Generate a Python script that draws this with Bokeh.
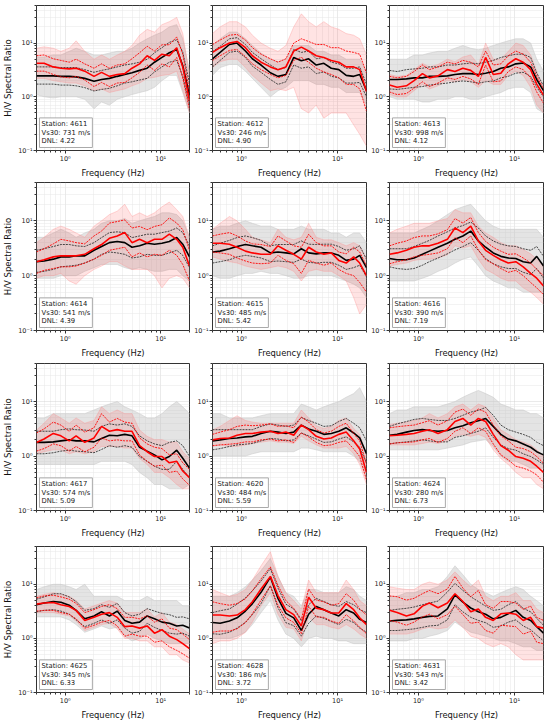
from bokeh.plotting import figure
from bokeh.layouts import column, row
from bokeh.models import FixedTicker, CustomJSTickFormatter, Label
from bokeh.embed import file_html
from bokeh.resources import INLINE

FREQ = [0.5, 0.6, 0.75, 0.9, 1.1, 1.3, 1.6, 2.0, 2.4, 2.9, 3.5, 4.2, 5.0, 6.0, 7.2, 8.6, 10.3, 12.3, 14.7, 17.0, 20.0]

STATIONS = ["4611", "4612", "4613", "4614", "4615", "4616", "4617", "4620", "4624", "4625", "4628", "4631"]
VS30 = [731, 246, 998, 541, 485, 390, 574, 484, 280, 345, 186, 543]
DNL = ["4.22", "4.90", "4.12", "4.39", "5.42", "7.19", "5.09", "5.59", "6.73", "6.33", "3.72", "3.42"]

# ---- 4611
blk_4611 = [2.45, 2.45, 2.45, 2.4, 2.4, 2.35, 2.2, 1.95, 2.1, 2.2, 2.4, 2.6, 2.8, 3.1, 3.4, 4.4, 5.4, 6.6, 7.6, 3.8, 1.07]
blk_hi_4611 = [3.6, 3.6, 3.6, 3.5, 3.5, 3.5, 3.2, 2.85, 3.1, 3.3, 3.6, 3.9, 4.1, 4.4, 5.0, 6.6, 8.2, 10.3, 11.5, 6.8, 1.8]
blk_lo_4611 = [1.72, 1.72, 1.72, 1.65, 1.65, 1.6, 1.48, 1.28, 1.37, 1.44, 1.6, 1.8, 1.9, 2.05, 2.2, 2.9, 3.6, 4.4, 4.75, 2.4, 0.7]
red_4611 = [4.2, 4.2, 3.6, 3.4, 3.3, 3.4, 3.0, 2.4, 2.85, 2.4, 2.6, 2.7, 3.4, 4.1, 5.8, 4.75, 6.2, 5.8, 8.2, 3.6, 0.84]
red_hi_4611 = [5.8, 6.0, 5.1, 4.75, 4.4, 5.0, 4.1, 3.4, 4.1, 3.4, 3.9, 4.1, 5.1, 6.6, 8.7, 7.1, 9.3, 9.3, 13, 6.2, 1.25]
red_lo_4611 = [3.0, 3.0, 2.6, 2.35, 2.25, 2.4, 2.05, 1.55, 1.85, 1.55, 1.8, 1.85, 2.25, 2.85, 3.9, 3.1, 4.1, 3.6, 5.4, 2.25, 0.58]
grey_lo_4611 = [1.1, 1.0, 0.95, 1.0, 1.0, 1.0, 0.9, 0.6, 0.8, 0.7, 0.9, 1.0, 1.1, 1.2, 1.3, 1.5, 2.0, 2.5, 2.5, 1.2, 0.5]
grey_hi_4611 = [5.5, 5.5, 6, 6, 7, 8, 7, 6, 6, 6.5, 7, 7, 8, 10, 12, 14, 16, 20, 22, 12, 3]
pink_lo_4611 = [2.2, 2.2, 2.0, 1.9, 1.8, 1.8, 1.6, 1.3, 1.4, 1.2, 1.3, 1.4, 1.6, 1.8, 2.2, 2.3, 2.5, 2.6, 3.0, 1.3, 0.5]
pink_hi_4611 = [8, 8.5, 8, 7, 8, 11, 7, 5, 6, 5, 6, 7, 9, 14, 18, 16, 22, 25, 30, 15, 2.5]

# ---- 4612
blk_4612 = [5.1, 6.7, 9.4, 10, 7.1, 5.1, 3.9, 2.8, 2.4, 2.6, 5.4, 4.7, 5.1, 3.9, 4.2, 3.4, 3.2, 2.5, 2.4, 2.6, 1.3]
blk_hi_4612 = [6.9, 8.7, 12, 12.6, 9.4, 6.7, 5.1, 3.9, 3.2, 3.5, 7.6, 6.7, 7.1, 5.1, 5.4, 4.4, 4.1, 3.4, 3.4, 3.6, 1.7]
blk_lo_4612 = [3.6, 4.75, 6.7, 7.1, 5.4, 3.7, 2.85, 2.1, 1.7, 1.9, 3.9, 3.4, 3.6, 2.7, 2.9, 2.4, 2.25, 1.8, 1.8, 1.85, 1.0]
red_4612 = [6.7, 8.2, 10, 10.7, 8.2, 5.8, 4.4, 3.6, 3.2, 3.6, 7.1, 8.4, 7.1, 5.8, 5.4, 4.75, 4.4, 3.6, 3.6, 3.2, 1.25]
red_hi_4612 = [9.4, 11.4, 14, 14.5, 11.4, 8.2, 6.2, 5.1, 4.4, 5.1, 10, 12, 10.7, 9.4, 9.4, 8.2, 8.2, 7.1, 6.7, 6.2, 2.75]
red_lo_4612 = [4.75, 5.8, 7.3, 7.6, 5.6, 4.1, 3.2, 2.6, 2.25, 2.5, 4.75, 5.4, 4.4, 3.4, 2.9, 2.6, 2.25, 1.7, 1.7, 1.4, 0.54]
grey_lo_4612 = [2.5, 3.5, 4, 4, 3, 2.2, 1.5, 1.0, 1.3, 1.5, 2, 2, 2, 1.7, 1.7, 1.5, 1.5, 1.2, 1.2, 1.2, 0.7]
grey_hi_4612 = [9, 12, 16, 16, 12, 9, 6.5, 5, 4.5, 5, 9, 9, 9, 7, 7, 6, 6, 5, 5, 5, 3]
pink_lo_4612 = [3.5, 4.5, 5, 5, 3.5, 2.5, 1.8, 1.3, 1.4, 1.3, 1.5, 0.6, 0.5, 0.7, 0.4, 0.5, 0.5, 0.5, 0.3, 0.2, 0.12]
pink_hi_4612 = [15, 20, 25, 25, 20, 14, 10, 8, 7, 9, 20, 35, 25, 20, 25, 20, 18, 15, 14, 12, 6]

# ---- 4613
blk_4613 = [2.1, 2.1, 2.15, 2.25, 2.25, 2.4, 2.4, 2.45, 2.6, 2.7, 2.7, 2.6, 2.75, 2.95, 3.4, 3.6, 4.1, 4.25, 3.6, 2.1, 1.3]
blk_hi_4613 = [3.1, 2.95, 3.2, 3.3, 3.4, 3.6, 3.6, 3.9, 3.9, 4.1, 4.25, 4.1, 4.4, 4.75, 5.4, 5.8, 6.2, 6.2, 5.4, 2.75, 1.6]
blk_lo_4613 = [1.4, 1.37, 1.44, 1.5, 1.55, 1.65, 1.72, 1.8, 1.9, 1.97, 1.9, 1.8, 1.9, 1.97, 2.25, 2.4, 2.75, 2.85, 2.4, 1.5, 1.0]
red_4613 = [1.65, 1.5, 1.6, 2.0, 2.7, 2.25, 2.45, 3.2, 2.95, 3.4, 3.1, 2.4, 5.4, 2.6, 2.75, 4.1, 5.1, 4.4, 3.2, 1.72, 1.07]
red_hi_4613 = [2.4, 2.25, 2.4, 2.95, 3.9, 3.2, 3.6, 4.4, 4.1, 4.75, 4.4, 3.6, 7.1, 3.9, 4.1, 5.8, 7.1, 6.2, 4.4, 2.4, 1.4]
red_lo_4613 = [1.23, 1.1, 1.15, 1.45, 1.9, 1.55, 1.8, 2.25, 2.1, 2.4, 2.15, 1.7, 3.9, 1.9, 1.97, 2.95, 3.6, 3.2, 2.25, 1.23, 0.76]
grey_lo_4613 = [1.0, 0.9, 0.9, 0.9, 0.8, 0.8, 0.9, 0.9, 1.0, 1.0, 0.9, 0.9, 1.0, 1.1, 1.2, 1.4, 1.5, 1.5, 1.2, 0.6, 0.5]
grey_hi_4613 = [5, 5, 5, 6, 6, 6.5, 7, 7, 8, 9, 8, 7.5, 8, 9, 10, 11, 12, 12, 10, 5, 3]
pink_lo_4613 = [1.1, 1.0, 1.0, 1.3, 1.7, 1.4, 1.6, 2.0, 1.9, 2.1, 1.9, 1.5, 2.0, 1.7, 1.7, 2.5, 3.0, 2.5, 1.5, 0.7, 0.5]
pink_hi_4613 = [2.6, 2.4, 2.5, 3.2, 4.2, 3.6, 4, 5, 4.5, 5.5, 6, 4, 10, 5, 5, 7, 10, 9, 6, 3, 1.5]

# ---- 4614
blk_4614 = [1.8, 1.85, 2.0, 2.2, 2.2, 2.3, 2.3, 2.9, 3.4, 4.0, 4.2, 4.0, 3.3, 3.5, 3.9, 3.75, 3.9, 4.2, 4.95, 3.75, 2.2]
blk_hi_4614 = [2.9, 3.1, 3.4, 3.7, 3.7, 3.5, 3.4, 4.0, 4.95, 6.1, 6.3, 6.1, 4.95, 5.3, 5.7, 5.7, 6.1, 6.5, 7.4, 6.1, 3.5]
blk_lo_4614 = [1.15, 1.2, 1.3, 1.45, 1.5, 1.55, 1.7, 2.0, 2.45, 2.7, 2.6, 2.45, 2.1, 2.2, 2.45, 2.35, 2.35, 2.6, 2.9, 2.35, 1.4]
red_4614 = [1.8, 1.95, 2.2, 2.3, 2.3, 2.3, 2.45, 3.1, 3.7, 4.8, 5.3, 6.1, 4.0, 4.6, 4.0, 4.6, 4.6, 5.7, 4.6, 3.3, 1.5]
red_hi_4614 = [2.7, 3.1, 3.8, 4.6, 4.3, 4.0, 3.8, 5.3, 6.5, 9.1, 9.7, 10.4, 7.4, 7.9, 6.9, 7.9, 8.5, 11.3, 9.1, 6.9, 2.9]
red_lo_4614 = [1.1, 1.25, 1.35, 1.45, 1.45, 1.5, 1.7, 2.0, 2.35, 2.9, 3.1, 3.3, 2.2, 2.6, 2.2, 2.45, 2.35, 2.9, 2.35, 1.6, 0.8]
grey_lo_4614 = [0.9, 0.9, 0.9, 1.0, 1.0, 1.0, 1.2, 1.4, 1.6, 1.6, 1.6, 1.4, 1.3, 1.4, 1.3, 1.2, 1.2, 1.3, 1.3, 1.0, 0.8]
grey_hi_4614 = [5, 5, 6, 7, 6, 5, 6, 7, 9, 10, 10, 11, 9, 10, 11, 12, 14, 14, 13, 10, 5]
pink_lo_4614 = [0.9, 1.0, 1.0, 1.1, 0.8, 0.7, 1.0, 1.3, 1.5, 1.8, 1.8, 1.5, 1.3, 1.3, 1.3, 1.0, 0.6, 0.9, 1.0, 0.9, 0.6]
pink_hi_4614 = [4, 5, 7, 8, 7, 6, 5, 8, 10, 13, 15, 20, 12, 14, 12, 14, 18, 22, 16, 12, 5]

# ---- 4615
blk_4615 = [2.7, 2.8, 3.1, 3.4, 3.7, 3.5, 3.3, 2.6, 2.7, 2.6, 2.5, 3.1, 2.6, 2.5, 2.6, 2.6, 2.35, 1.9, 2.0, 2.35, 1.4]
blk_hi_4615 = [3.5, 3.9, 4.4, 4.95, 5.3, 4.95, 4.4, 3.5, 3.7, 3.7, 3.7, 4.3, 3.75, 3.7, 3.75, 3.75, 3.4, 2.9, 3.1, 3.5, 2.0]
blk_lo_4615 = [1.7, 1.8, 1.95, 2.2, 2.35, 2.25, 2.1, 1.8, 1.85, 1.8, 1.75, 2.0, 1.75, 1.7, 1.75, 1.75, 1.55, 1.3, 1.4, 1.55, 0.95]
red_4615 = [3.9, 3.9, 3.75, 3.3, 2.8, 2.6, 2.45, 2.45, 3.5, 2.9, 2.45, 2.0, 3.3, 2.7, 2.45, 2.6, 1.9, 1.7, 2.2, 1.7, 1.0]
red_hi_4615 = [5.3, 5.7, 6.1, 5.3, 4.3, 3.8, 3.7, 3.4, 5.3, 4.3, 3.5, 3.3, 5.7, 4.0, 3.5, 3.5, 2.7, 2.5, 3.3, 2.7, 1.5]
red_lo_4615 = [2.7, 2.6, 2.45, 2.1, 1.85, 1.7, 1.65, 1.7, 2.35, 1.9, 1.65, 1.1, 1.9, 1.7, 1.55, 1.7, 1.3, 1.1, 1.0, 0.75, 0.5]
grey_lo_4615 = [1.0, 0.9, 0.9, 1.0, 1.1, 1.1, 1.2, 1.1, 1.1, 1.0, 0.9, 0.9, 1.0, 1.0, 1.0, 1.0, 0.9, 0.8, 0.7, 0.6, 0.4]
grey_hi_4615 = [7, 8, 8, 9, 10, 9, 8, 8, 7, 7, 7, 8, 7, 7, 7, 6, 6, 5, 6, 6, 4]
pink_lo_4615 = [2.2, 2.0, 1.8, 1.7, 1.5, 1.4, 1.3, 1.4, 1.5, 1.4, 1.2, 0.8, 1.2, 1.3, 1.2, 1.2, 1.0, 0.8, 0.4, 0.2, 0.3]
pink_hi_4615 = [7, 9, 12, 10, 7, 5, 4.5, 4, 7, 5, 4.5, 5, 9, 5, 4.5, 4.5, 4, 3.5, 4, 3.5, 2]

# ---- 4616
blk_4616 = [2.05, 1.95, 1.95, 2.1, 2.45, 2.8, 3.3, 3.9, 4.6, 5.3, 6.5, 4.3, 3.3, 2.6, 2.25, 2.1, 2.05, 1.8, 1.7, 2.25, 1.5]
blk_hi_4616 = [3.1, 3.1, 3.1, 3.4, 3.9, 4.4, 5.3, 6.3, 7.4, 8.2, 9.5, 7.4, 5.3, 4.3, 3.75, 3.5, 3.4, 3.1, 2.9, 3.4, 2.25]
blk_lo_4616 = [1.45, 1.35, 1.3, 1.35, 1.55, 1.8, 2.1, 2.5, 2.95, 3.4, 4.0, 2.9, 2.05, 1.65, 1.45, 1.35, 1.35, 1.15, 1.05, 1.35, 0.9]
red_4616 = [2.45, 2.6, 2.9, 3.3, 3.5, 3.5, 3.9, 4.6, 7.4, 6.1, 8.0, 4.3, 2.9, 2.35, 1.95, 1.7, 1.8, 1.45, 1.1, 0.9, 0.65]
red_hi_4616 = [3.5, 3.9, 4.3, 4.95, 5.3, 5.3, 5.8, 6.9, 11, 9.1, 11.5, 6.1, 4.2, 3.3, 2.8, 2.45, 2.5, 2.1, 1.7, 1.3, 1.0]
red_lo_4616 = [1.65, 1.8, 1.95, 2.2, 2.35, 2.45, 2.6, 3.1, 4.95, 4.0, 5.3, 2.95, 1.95, 1.65, 1.35, 1.15, 1.25, 1.0, 0.75, 0.6, 0.45]
grey_lo_4616 = [0.8, 0.8, 0.8, 0.8, 0.9, 1.0, 1.2, 1.4, 1.7, 2.0, 2.2, 1.5, 1.0, 0.8, 0.7, 0.6, 0.6, 0.5, 0.5, 0.5, 0.5]
grey_hi_4616 = [6, 6, 6, 6, 7, 8, 10, 13, 16, 18, 20, 14, 10, 8, 7, 7, 7, 7, 7, 7, 5]
pink_lo_4616 = [1.5, 1.6, 1.7, 1.9, 2.0, 2.0, 2.1, 2.4, 3.5, 3.2, 3.5, 2.0, 1.3, 1.1, 0.9, 0.8, 0.8, 0.6, 0.5, 0.4, 0.3]
pink_hi_4616 = [6, 7, 8, 9, 9, 9, 10, 11, 16, 14, 14, 8, 6, 5, 4, 3.5, 3.5, 3, 2.5, 2, 1.5]

# ---- 4617
blk_4617 = [1.78, 1.78, 1.82, 1.9, 1.98, 1.9, 1.9, 1.82, 2.1, 2.4, 2.35, 2.5, 2.35, 1.45, 1.23, 1.05, 0.85, 0.98, 1.28, 0.91, 0.6]
blk_hi_4617 = [2.85, 2.85, 2.85, 3.05, 3.15, 3.05, 3.0, 2.85, 3.5, 3.9, 3.7, 3.9, 3.5, 2.35, 1.9, 1.67, 1.55, 1.78, 1.9, 1.55, 0.98]
blk_lo_4617 = [1.1, 1.1, 1.15, 1.23, 1.28, 1.23, 1.2, 1.15, 1.32, 1.55, 1.45, 1.55, 1.45, 0.98, 0.8, 0.65, 0.57, 0.57, 0.8, 0.57, 0.4]
red_4617 = [1.78, 2.05, 2.6, 2.35, 1.9, 2.35, 1.78, 2.15, 3.5, 2.85, 3.05, 2.85, 2.85, 1.55, 1.2, 0.98, 0.98, 0.75, 0.8, 0.53, 0.4]
red_hi_4617 = [2.65, 3.15, 4.2, 3.7, 2.85, 3.7, 2.75, 3.3, 6.0, 4.2, 4.9, 4.2, 4.0, 2.15, 1.67, 1.45, 1.37, 1.05, 1.1, 0.75, 0.57]
red_lo_4617 = [1.23, 1.37, 1.67, 1.55, 1.23, 1.5, 1.2, 1.45, 2.15, 1.9, 1.98, 1.9, 1.9, 1.05, 0.8, 0.65, 0.68, 0.5, 0.53, 0.38, 0.29]
grey_lo_4617 = [0.7, 0.7, 0.7, 0.7, 0.7, 0.7, 0.7, 0.7, 0.8, 0.8, 0.8, 0.8, 0.7, 0.5, 0.4, 0.3, 0.3, 0.25, 0.25, 0.25, 0.3]
grey_hi_4617 = [5, 5, 6, 6, 6, 6, 6, 7, 8, 9, 10, 8, 7, 6, 5, 5, 6, 8, 10, 8, 6]
pink_lo_4617 = [1.1, 1.2, 1.3, 1.3, 1.1, 1.2, 1.1, 1.2, 1.5, 1.5, 1.5, 1.4, 1.4, 0.9, 0.7, 0.5, 0.5, 0.4, 0.3, 0.25, 0.25]
pink_hi_4617 = [3, 4, 6, 5, 4, 5, 4, 4.5, 8, 6, 7, 6, 6, 3, 2.3, 2, 2, 1.8, 1.8, 1.2, 0.9]

# ---- 4620
blk_4620 = [1.9, 1.98, 2.1, 2.15, 2.25, 2.3, 2.6, 2.85, 2.75, 2.6, 2.75, 3.7, 3.15, 2.85, 2.5, 2.6, 2.85, 3.3, 2.65, 2.15, 1.1]
blk_hi_4620 = [3.05, 3.05, 3.05, 3.05, 3.05, 3.05, 3.5, 3.9, 3.7, 3.5, 3.7, 5.1, 4.5, 4.0, 3.5, 3.6, 4.3, 4.9, 4.0, 3.3, 1.9]
blk_lo_4620 = [1.3, 1.37, 1.5, 1.6, 1.65, 1.7, 1.9, 2.1, 2.05, 1.9, 1.98, 2.65, 2.35, 2.05, 1.78, 1.82, 2.05, 2.25, 1.82, 1.45, 0.74]
red_4620 = [1.98, 2.1, 2.15, 2.4, 2.6, 2.6, 2.75, 2.85, 2.6, 2.75, 2.4, 3.7, 3.05, 2.3, 2.05, 2.15, 2.5, 2.75, 1.9, 1.35, 0.5]
red_hi_4620 = [2.5, 2.75, 3.05, 3.5, 3.7, 3.6, 3.7, 3.9, 3.5, 3.6, 3.3, 5.2, 4.2, 3.05, 2.65, 2.85, 3.5, 4.0, 2.6, 1.9, 0.7]
red_lo_4620 = [1.55, 1.6, 1.65, 1.7, 1.82, 1.82, 1.98, 2.05, 1.9, 1.98, 1.78, 2.65, 2.25, 1.78, 1.55, 1.6, 1.78, 1.9, 1.35, 0.98, 0.36]
grey_lo_4620 = [1.0, 1.0, 1.0, 1.0, 1.0, 1.1, 1.2, 1.2, 1.2, 1.2, 1.2, 1.4, 1.4, 1.3, 1.2, 1.2, 1.2, 1.2, 1.0, 0.8, 0.4]
grey_hi_4620 = [6, 6, 5, 5, 5, 5, 5.5, 6, 6, 6, 6, 9, 8, 7, 8, 9, 10, 12, 14, 18, 10]
pink_lo_4620 = [1.5, 1.6, 1.5, 1.5, 1.6, 1.7, 1.8, 1.9, 1.8, 1.8, 1.7, 2.3, 1.9, 1.6, 1.4, 1.4, 1.4, 1.5, 1.1, 0.7, 0.3]
pink_hi_4620 = [3, 3.5, 4.5, 5.5, 4.5, 4.2, 4, 4, 4, 4, 4, 7, 5, 3.6, 3.2, 3.5, 4.5, 5, 3.2, 2.5, 1]

# ---- 4624
blk_4624 = [2.4, 2.5, 2.75, 2.95, 3.05, 2.95, 2.85, 2.95, 3.3, 3.6, 4.1, 4.45, 4.9, 3.5, 2.5, 2.05, 1.9, 1.67, 1.45, 1.2, 1.05]
blk_hi_4624 = [3.5, 3.9, 4.3, 4.7, 4.9, 4.7, 4.5, 4.5, 4.9, 5.6, 6.4, 6.9, 7.8, 5.6, 3.7, 3.05, 2.75, 2.5, 2.2, 1.8, 1.55]
blk_lo_4624 = [1.67, 1.75, 1.82, 1.9, 1.98, 1.9, 1.82, 1.82, 2.2, 2.35, 2.6, 2.85, 3.3, 2.2, 1.6, 1.37, 1.28, 1.1, 0.98, 0.85, 0.7]
red_4624 = [2.35, 2.4, 2.5, 2.6, 2.85, 3.05, 2.6, 3.05, 4.3, 4.9, 3.7, 4.9, 4.3, 2.5, 1.55, 1.28, 0.98, 0.91, 0.8, 0.65, 0.5]
red_hi_4624 = [3.3, 3.45, 3.6, 3.7, 4.1, 4.45, 3.7, 4.45, 6.4, 7.3, 5.6, 7.3, 6.4, 3.7, 2.35, 1.9, 1.45, 1.37, 1.2, 0.98, 0.74]
red_lo_4624 = [1.67, 1.75, 1.78, 1.82, 1.98, 2.1, 1.78, 2.1, 2.85, 3.3, 2.6, 3.3, 2.85, 1.67, 1.05, 0.85, 0.65, 0.6, 0.53, 0.45, 0.33]
grey_lo_4624 = [1.3, 1.3, 1.3, 1.3, 1.3, 1.3, 1.3, 1.4, 1.5, 1.6, 1.8, 1.9, 2.0, 1.5, 1.0, 0.8, 0.8, 0.7, 0.6, 0.6, 0.6]
grey_hi_4624 = [6, 7, 7, 8, 8, 8, 8, 9, 10, 12, 14, 16, 14, 12, 9, 8, 7, 7, 6, 6, 5]
pink_lo_4624 = [1.6, 1.6, 1.6, 1.6, 1.7, 1.8, 1.7, 1.9, 2.3, 2.5, 2.3, 2.5, 2.2, 1.3, 0.9, 0.7, 0.5, 0.4, 0.4, 0.3, 0.25]
pink_hi_4624 = [3.8, 4, 4.2, 4.5, 5, 6, 5, 6, 8, 9, 7, 9, 8, 5, 3, 2.5, 2, 1.8, 1.6, 1.3, 1]

# ---- 4625
blk_4625 = [4.2, 4.5, 4.8, 4.65, 4.1, 3.3, 2.3, 2.6, 3.1, 2.6, 3.2, 2.15, 1.9, 2.0, 2.6, 2.3, 2.0, 1.9, 1.7, 1.75, 1.55]
blk_hi_4625 = [5.3, 5.85, 6.7, 6.7, 5.85, 4.8, 3.3, 3.55, 4.2, 3.75, 4.45, 3.0, 2.6, 2.8, 3.55, 3.2, 2.9, 2.75, 2.45, 2.5, 2.3]
blk_lo_4625 = [3.1, 3.3, 3.4, 3.2, 2.8, 2.2, 1.65, 1.9, 2.2, 1.9, 2.2, 1.55, 1.25, 1.35, 1.9, 1.6, 1.4, 1.25, 1.2, 1.25, 1.1]
red_4625 = [4.3, 4.5, 4.6, 4.2, 3.9, 3.3, 2.15, 2.45, 2.8, 3.0, 2.45, 1.65, 1.7, 1.55, 1.7, 1.25, 1.45, 1.1, 0.95, 0.8, 0.65]
red_hi_4625 = [5.6, 6.1, 6.3, 5.85, 5.3, 4.45, 3.0, 3.4, 3.9, 4.2, 3.55, 2.45, 2.45, 2.3, 2.6, 2.0, 2.3, 1.55, 1.45, 1.2, 0.95]
red_lo_4625 = [3.2, 3.3, 3.3, 3.0, 2.8, 2.3, 1.55, 1.75, 2.0, 2.15, 1.7, 1.1, 1.2, 1.1, 1.1, 0.85, 0.9, 0.7, 0.6, 0.52, 0.43]
grey_lo_4625 = [2.5, 2.5, 2.5, 2.5, 2.2, 1.8, 1.3, 1.5, 1.7, 1.5, 1.6, 1.1, 0.9, 1.0, 1.2, 1.0, 0.9, 0.8, 0.8, 0.8, 0.8]
grey_hi_4625 = [8, 9, 10, 10, 9, 8, 10, 6, 6, 6, 6, 5, 5, 5, 6, 5, 5, 5, 5, 4, 4]
pink_lo_4625 = [3.0, 3.0, 3.0, 2.8, 2.6, 2.1, 1.4, 1.6, 1.8, 1.9, 1.5, 1.0, 1.0, 0.9, 0.9, 0.7, 0.7, 0.5, 0.5, 0.4, 0.35]
pink_hi_4625 = [6, 6.5, 7, 6.5, 6, 5, 3.5, 4, 4.5, 5, 4.5, 3, 3, 3, 3.5, 2.5, 3, 2, 1.8, 1.5, 1.2]

# ---- 4628
blk_4628 = [1.97, 1.9, 2.1, 2.4, 3.2, 4.4, 7.1, 13.6, 5.5, 2.9, 2.4, 1.4, 2.8, 3.9, 3.4, 2.95, 2.6, 3.4, 2.95, 2.25, 1.97]
blk_hi_4628 = [3.0, 3.25, 3.5, 4.3, 5.6, 7.6, 11.5, 19.5, 8.5, 4.3, 3.5, 2.1, 4.2, 5.5, 4.8, 4.2, 3.9, 4.8, 4.2, 3.4, 3.0]
blk_lo_4628 = [1.22, 1.19, 1.3, 1.55, 1.97, 2.75, 4.4, 9.4, 3.7, 1.95, 1.72, 1.1, 1.9, 2.6, 2.35, 2.05, 1.8, 2.25, 1.97, 1.55, 1.3]
red_4628 = [2.7, 2.7, 2.6, 2.7, 3.4, 4.75, 8.2, 14, 6.2, 3.4, 2.75, 1.7, 5.8, 3.6, 3.4, 2.95, 2.95, 4.4, 3.4, 2.4, 1.8]
red_hi_4628 = [4.75, 4.4, 4.1, 4.4, 5.4, 7.6, 12.6, 21, 9.5, 5.0, 3.6, 2.25, 8.2, 5.1, 4.75, 4.1, 4.4, 6.7, 5.1, 3.5, 2.7]
red_lo_4628 = [1.3, 1.37, 1.37, 1.5, 1.97, 2.85, 5.1, 9.4, 4.1, 2.4, 1.97, 1.22, 3.9, 2.5, 2.45, 2.1, 1.9, 2.75, 2.1, 1.6, 1.22]
grey_lo_4628 = [1.0, 1.0, 1.0, 1.1, 1.3, 1.8, 3.0, 5, 2.2, 1.2, 1.0, 0.7, 1.0, 1.1, 1.0, 1.0, 0.9, 0.9, 0.8, 0.8, 0.8]
grey_hi_4628 = [6, 6, 6, 7, 9, 12, 18, 30, 14, 7, 6, 4, 8, 8, 7, 7, 7, 9, 8, 6, 5]
pink_lo_4628 = [0.8, 0.9, 0.9, 1.0, 1.3, 2.0, 4, 7, 2.8, 1.6, 1.5, 0.9, 2.5, 1.8, 1.8, 1.6, 1.5, 1.8, 1.5, 1.2, 1.0]
pink_hi_4628 = [8, 7, 6, 6.5, 8, 12, 22, 40, 14, 7, 5, 3.5, 12, 7, 7, 7, 7, 12, 8, 5, 4]

# ---- 4631
blk_4631 = [2.1, 2.15, 2.2, 2.3, 2.45, 2.55, 2.6, 3.5, 6.4, 4.7, 3.65, 3.1, 2.8, 2.3, 2.45, 2.85, 3.3, 2.45, 2.15, 1.65, 1.25]
blk_hi_4631 = [3.3, 3.45, 3.6, 3.8, 4.2, 4.5, 4.9, 7.2, 10.4, 7.7, 5.9, 4.8, 3.95, 3.3, 3.45, 4.2, 4.8, 3.6, 3.1, 2.35, 1.75]
blk_lo_4631 = [1.4, 1.4, 1.45, 1.5, 1.6, 1.7, 1.75, 2.2, 4.2, 3.1, 2.45, 2.15, 1.95, 1.6, 1.7, 2.0, 2.2, 1.7, 1.45, 1.15, 0.9]
red_4631 = [3.3, 3.0, 2.6, 2.85, 3.95, 4.5, 3.7, 4.5, 6.7, 4.8, 3.1, 3.5, 2.45, 2.15, 2.85, 2.95, 2.8, 2.15, 2.45, 1.65, 1.55]
red_hi_4631 = [6.1, 5.9, 5.1, 5.5, 6.7, 7.7, 6.7, 8.2, 14, 8.5, 5.9, 7.7, 4.2, 3.6, 4.8, 4.8, 4.5, 3.45, 3.95, 2.45, 2.15]
red_lo_4631 = [2.15, 2.0, 1.75, 2.0, 2.5, 2.8, 2.3, 2.75, 3.95, 2.75, 1.9, 2.0, 1.4, 1.25, 1.75, 1.7, 1.65, 1.2, 1.35, 0.85, 0.8]
grey_lo_4631 = [0.9, 0.9, 0.9, 1.0, 1.0, 1.1, 1.2, 1.4, 2.0, 1.6, 1.3, 1.2, 1.1, 1.0, 0.9, 0.9, 0.8, 0.7, 0.7, 0.6, 0.6]
grey_hi_4631 = [6, 6, 7, 7, 8, 8, 9, 14, 22, 15, 10, 8, 7, 6, 7, 8, 9, 8, 6, 5, 4]
pink_lo_4631 = [1.2, 1.2, 1.2, 1.3, 1.5, 1.6, 1.5, 1.6, 2.2, 1.6, 1.1, 1.0, 0.8, 0.7, 0.8, 0.7, 0.5, 0.4, 0.4, 0.4, 0.4]
pink_hi_4631 = [9, 8.5, 8, 8, 10, 11, 10, 12, 17, 12, 9, 12, 6, 5, 6, 6, 7, 5, 5, 3.5, 3]

g = globals()
SERIES = {
    s: {k: g[f"{k}_{s}"] for k in ["blk", "blk_hi", "blk_lo", "red", "red_hi", "red_lo",
                                   "grey_lo", "grey_hi", "pink_lo", "pink_hi"]}
    for s in STATIONS
}

FONT = "DejaVu Sans"
X_MINOR = [0.5, 0.6, 0.7, 0.8, 0.9, 2, 3, 4, 5, 6, 7, 8, 9, 20]
Y_MINOR = [0.2, 0.3, 0.4, 0.5, 0.6, 0.7, 0.8, 0.9, 2, 3, 4, 5, 6, 7, 8, 9, 20, 30, 40, 50]

fmt_code = r"""
const e = Math.round(Math.log10(tick));
const sup = {'-1': '\u207b\u00b9', '0': '\u2070', '1': '\u00b9', '2': '\u00b2'};
return '10' + sup[String(e)];
"""

# layout geometry (pixels): per column (left border, frame width, right border),
# per row (top border, frame height, bottom border)
COL_GEOM = [(33, 156, 2), (19, 156, 2), (20, 155, 5)]
ROW_GEOM = [(5, 154, 21), (2, 154, 24), (3, 154, 23), (6, 154, 22)]


def make_panel(i):
    st = STATIONS[i]
    d = SERIES[st]
    col, r = i % 3, i // 3
    left, fw, right = COL_GEOM[col]
    top, fh, bottom = ROW_GEOM[r]
    p = figure(width=left + fw + right, height=top + fh + bottom,
               x_axis_type="log", y_axis_type="log",
               x_range=(0.5, 20), y_range=(0.1, 50),
               output_backend="svg", toolbar_location=None,
               min_border_left=left, min_border_right=right,
               min_border_top=top, min_border_bottom=bottom)
    p.background_fill_color = "white"
    p.border_fill_color = "white"
    p.outline_line_color = "#333333"
    p.outline_line_width = 1

    xt = FixedTicker(ticks=[1, 10], minor_ticks=X_MINOR)
    yt = FixedTicker(ticks=[0.1, 1, 10], minor_ticks=Y_MINOR)
    p.xaxis.ticker = xt
    p.yaxis.ticker = yt
    p.xgrid.ticker = xt
    p.ygrid.ticker = yt
    for ax in (p.xaxis, p.yaxis):
        ax.formatter = CustomJSTickFormatter(code=fmt_code)
        ax.axis_line_color = None
        ax.major_tick_out = 3
        ax.major_tick_in = 0
        ax.minor_tick_out = 2
        ax.minor_tick_in = 0
        ax.major_tick_line_color = "#333333"
        ax.minor_tick_line_color = "#333333"
        ax.major_label_text_font = FONT
        ax.major_label_text_font_size = "6.5px"
        ax.major_label_text_color = "#222222"
        ax.major_label_standoff = 1
        ax.axis_label_text_font = FONT
        ax.axis_label_text_font_style = "normal"
        ax.axis_label_text_color = "#111111"
        ax.axis_label_standoff = 2
    p.xaxis.axis_label = "Frequency (Hz)"
    p.xaxis.axis_label_text_font_size = "8.4px"
    if col == 0:
        p.yaxis.axis_label = "H/V Spectral Ratio"
        p.yaxis.axis_label_text_font_size = "8.5px"
    for gr in (p.xgrid, p.ygrid):
        gr.grid_line_color = "#cccccc"
        gr.grid_line_alpha = 0.7
        gr.grid_line_width = 0.6
        gr.minor_grid_line_color = "#e6e6e6"
        gr.minor_grid_line_width = 0.5

    p.varea(x=FREQ, y1=d["grey_lo"], y2=d["grey_hi"], fill_color="#c4c4c4", fill_alpha=0.45)
    p.line(FREQ, d["grey_lo"], line_color="#cccccc", line_width=0.6)
    p.line(FREQ, d["grey_hi"], line_color="#cccccc", line_width=0.6)
    p.varea(x=FREQ, y1=d["pink_lo"], y2=d["pink_hi"], fill_color="#ff0000", fill_alpha=0.11)
    p.line(FREQ, d["pink_lo"], line_color="#ff9090", line_alpha=0.6, line_width=0.6)
    p.line(FREQ, d["pink_hi"], line_color="#ff9090", line_alpha=0.6, line_width=0.6)

    p.line(FREQ, d["blk_hi"], line_color="#333333", line_width=0.9, line_dash="2 1")
    p.line(FREQ, d["blk_lo"], line_color="#333333", line_width=0.9, line_dash="2 1")
    p.line(FREQ, d["blk"], line_color="black", line_width=1.6)
    p.line(FREQ, d["red_hi"], line_color="red", line_width=0.9, line_dash="2 1")
    p.line(FREQ, d["red_lo"], line_color="red", line_width=0.9, line_dash="2 1")
    p.line(FREQ, d["red"], line_color="red", line_width=1.6)

    lab = Label(x=3, y=3, x_units="screen", y_units="screen",
                text=f"Station: {st}\nVs30: {VS30[i]} m/s\nDNL: {DNL[i]}",
                text_font=FONT, text_font_size="6.8px", text_color="#222222",
                text_align="left", text_baseline="bottom", text_line_height=1.1,
                background_fill_color="white", background_fill_alpha=0.85,
                border_line_color="#aaaaaa", border_line_width=1, padding=2)
    p.add_layout(lab)
    return p


figs = [make_panel(i) for i in range(len(STATIONS))]
layout = column(*[row(*figs[r * 3:(r + 1) * 3]) for r in range(4)])
open("out.html", "w").write(file_html(layout, INLINE))
